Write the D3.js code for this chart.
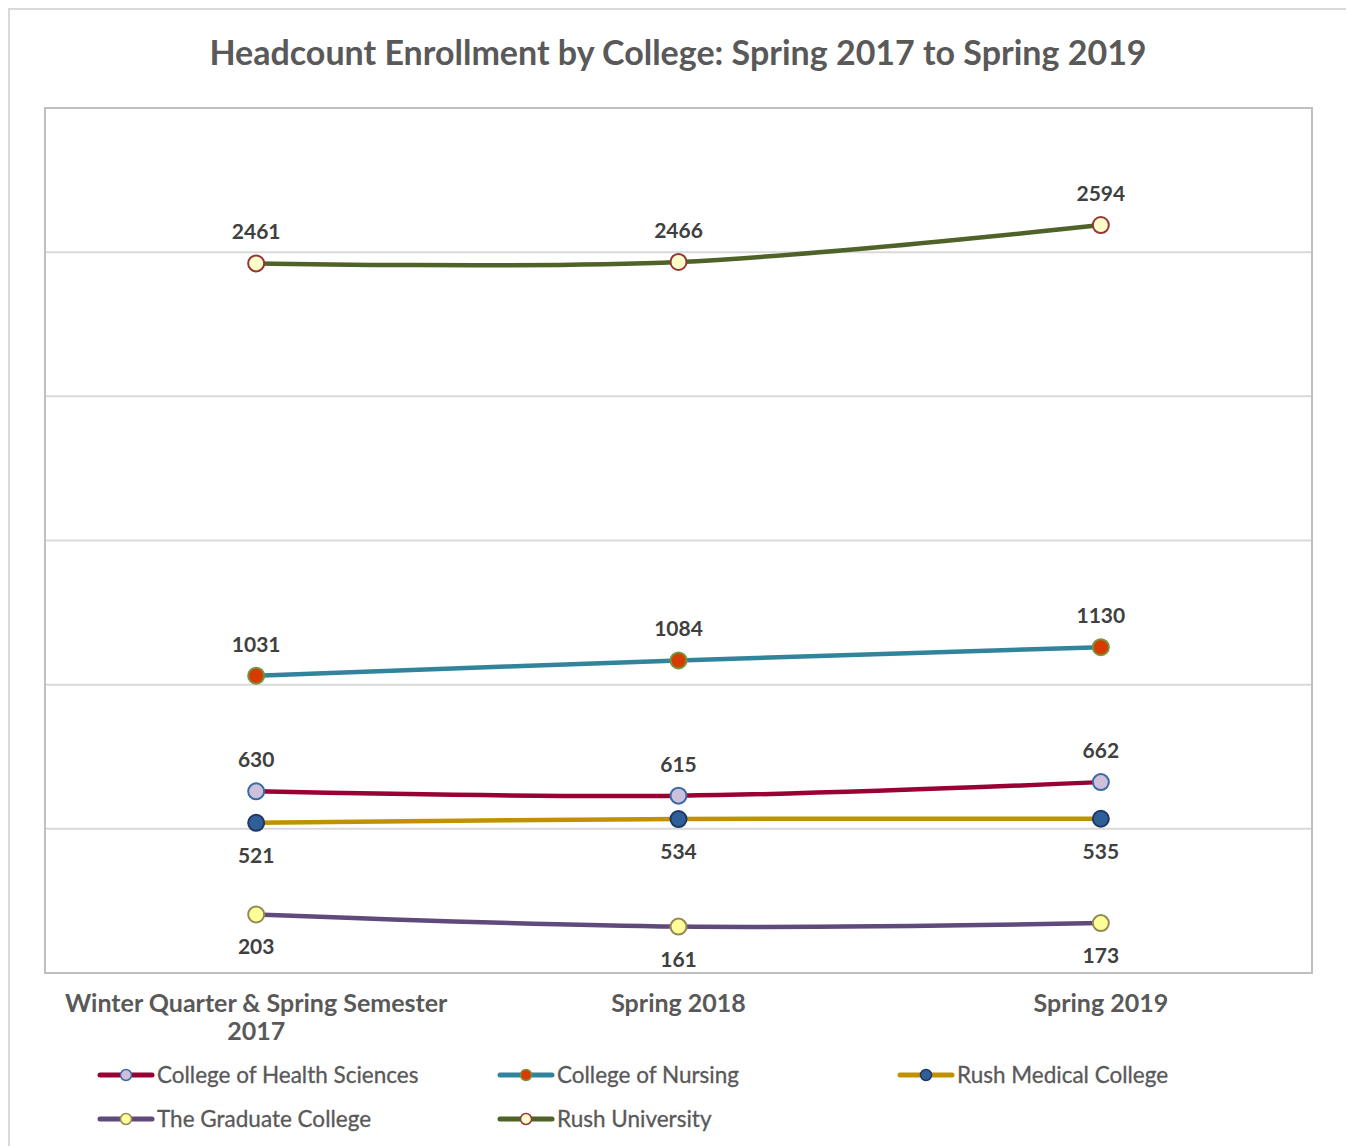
<!DOCTYPE html>
<html>
<head>
<meta charset="utf-8">
<script src="https://cdn.jsdelivr.net/npm/d3@7"></script>
<style>
  body { margin: 0; background: white; }
  svg { display: block; }
</style>
</head>
<body>
<svg id="chart_svg" width="1346" height="1146"></svg>
<script>
var title = 'Headcount Enrollment by College: Spring 2017 to Spring 2019';
var categories = ['Winter Quarter & Spring Semester 2017', 'Spring 2018', 'Spring 2019'];
var seriesNames = ['College of Health Sciences', 'College of Nursing', 'Rush Medical College', 'The Graduate College', 'Rush University'];
var healthSciences = [630, 615, 662];
var nursing = [1031, 1084, 1130];
var medical = [521, 534, 535];
var graduate = [203, 161, 173];
var university = [2461, 2466, 2594];
var yTicks = [0, 500, 1000, 1500, 2000, 2500, 3000];

/* look of each series, in the same order as seriesNames */
var lineColors = ['#990033', '#31849b', '#c09100', '#604a7b', '#4f6228'];
var markerFills = ['#ccc0da', '#d83b01', '#2f5f98', '#ffff99', '#ffffcc'];
var markerStrokes = ['#3a6aa6', '#77933c', '#1f3864', '#948a54', '#953735'];
var labelSides = ['above', 'above', 'below', 'below', 'above'];

var seriesValues = [healthSciences, nursing, medical, graduate, university];

function createChart(){
  var svg = d3.select('#chart_svg');
  var font = 'Lato, "Open Sans", sans-serif';

  /* chart frame */
  svg.append('rect')
    .attr('x', 9).attr('y', 9).attr('width', 1346).attr('height', 1146)
    .style('fill', 'white').style('stroke', '#d9d9d9').style('stroke-width', 2);

  svg.append('text')
    .attr('x', 678).attr('y', 65)
    .style('text-anchor', 'middle').style('font-family', font).style('font-weight', 'bold')
    .style('font-size', '34px').style('fill', '#595959')
    .text(title);

  var plot = { left: 45, right: 1312, top: 108, bottom: 973 };

  var x = d3.scaleBand().domain(categories).range([plot.left, plot.right]);
  var y = d3.scaleLinear().domain([0, 3000]).range([plot.bottom, plot.top]);

  /* gridlines */
  svg.append('g').selectAll('line')
    .data(yTicks.slice(1, -1))
    .join('line')
    .attr('x1', plot.left).attr('x2', plot.right)
    .attr('y1', d => y(d)).attr('y2', d => y(d))
    .style('stroke', '#d9d9d9').style('stroke-width', 2);

  /* plot border */
  svg.append('rect')
    .attr('x', plot.left).attr('y', plot.top)
    .attr('width', plot.right - plot.left).attr('height', plot.bottom - plot.top)
    .style('fill', 'none').style('stroke', '#bfbfbf').style('stroke-width', 2);

  /* category axis */
  var xAxis = svg.append('g')
    .attr('transform', 'translate(0,' + plot.bottom + ')')
    .call(d3.axisBottom(x).tickSize(0).tickPadding(0));
  xAxis.select('.domain').remove();
  xAxis.selectAll('text')
    .attr('y', 39)
    .attr('dy', null)
    .style('font-family', font).style('font-size', '25px').style('font-weight', 'bold')
    .style('fill', '#595959')
    .call(wrap, 405);

  /* lines */
  var line = d3.line()
    .x((d, i) => x(categories[i]) + x.bandwidth() / 2)
    .y(d => y(d))
    .curve(d3.curveCardinal.tension(0));

  var order = [2, 0, 1, 3, 4];
  order.forEach(s => {
    svg.append('path')
      .attr('d', line(seriesValues[s]))
      .style('fill', 'none').style('stroke', lineColors[s]).style('stroke-width', 4.5)
      .style('stroke-linecap', 'round');
  });

  order.forEach(s => {
    var g = svg.append('g');
    g.selectAll('circle')
      .data(seriesValues[s])
      .join('circle')
      .attr('cx', (d, i) => x(categories[i]) + x.bandwidth() / 2)
      .attr('cy', d => y(d))
      .attr('r', 8)
      .style('fill', markerFills[s]).style('stroke', markerStrokes[s]).style('stroke-width', 2);
    g.selectAll('text')
      .data(seriesValues[s])
      .join('text')
      .attr('x', (d, i) => x(categories[i]) + x.bandwidth() / 2)
      .attr('y', d => y(d) + (labelSides[s] == 'above' ? -24 : 40))
      .style('text-anchor', 'middle').style('font-family', font).style('font-weight', 'bold')
      .style('font-size', '21px').style('fill', '#404040')
      .text(d => d);
  });

  /* legend */
  var legend = svg.append('g');
  seriesNames.forEach((name, i) => {
    var lx = 98 + (i % 3) * 400;
    var ly = 1075 + Math.floor(i / 3) * 44;
    var item = legend.append('g').attr('transform', 'translate(' + lx + ',' + ly + ')');
    item.append('line')
      .attr('x1', 2).attr('x2', 54).attr('y1', 0).attr('y2', 0)
      .style('stroke', lineColors[i]).style('stroke-width', 5).style('stroke-linecap', 'round');
    item.append('circle')
      .attr('cx', 28).attr('cy', 0).attr('r', 5.5)
      .style('fill', markerFills[i]).style('stroke', markerStrokes[i]).style('stroke-width', 1.5);
    item.append('text')
      .attr('x', 59).attr('y', 8)
      .style('font-family', font).style('font-size', '22.5px').style('fill', '#595959')
      .style('stroke', '#595959').style('stroke-width', 0.3)
      .text(name);
  });
}

function wrap(texts, width){
  texts.each(function(){
    var text = d3.select(this);
    var words = text.text().split(/\s+/);
    var xPos = text.attr('x') || 0;
    var yPos = text.attr('y');
    var lines = [[]];
    text.text(null);
    var tspan = text.append('tspan').attr('x', xPos).attr('y', yPos);
    words.forEach(w => {
      var cur = lines[lines.length - 1];
      cur.push(w);
      tspan.text(cur.join(' '));
      if (tspan.node().getComputedTextLength() > width && cur.length > 1){
        cur.pop();
        tspan.text(cur.join(' '));
        lines.push([w]);
        tspan = text.append('tspan').attr('x', xPos).attr('y', yPos).attr('dy', (lines.length - 1) * 28).text(w);
      }
    });
  });
}

createChart();
</script>
</body>
</html>
